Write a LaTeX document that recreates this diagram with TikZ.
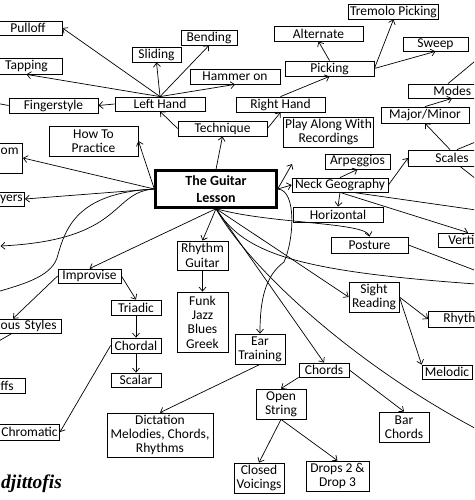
\documentclass[tikz,border=0pt]{standalone}
\usepackage{fontspec}
\setmainfont{Carlito}
\newfontfamily\signfont{Liberation Serif}
\usetikzlibrary{arrows.meta}
\newcommand{\topicfont}{\fontsize{13.5}{14.3}\selectfont}

\begin{document}
\begin{tikzpicture}[x=1pt,y=-1pt, every node/.style={font=\topicfont},
  topic/.style={draw, line width=.8pt, align=center, inner xsep=2pt, inner ysep=1pt, minimum height=15pt},
  cutright/.style={topic, anchor=west, align=left},
  cutleft/.style={topic, anchor=east, align=right},
  link/.style={line width=.7pt, -{Straight Barb[length=4pt,width=7pt]}},
  plainline/.style={line width=.7pt}]
  \useasboundingbox (0,0) rectangle (474,500);
  \clip (0,0) rectangle (474,500);

  % centre
  \node[topic, line width=2.4pt, font=\fontsize{14}{17}\selectfont\bfseries, minimum width=121pt, minimum height=37pt] (lesson) at (216,189) {The Guitar\\Lesson};

  % technique branch
  \node[topic, minimum width=89pt] (technique) at (222.5,128.5) {Technique};
  \node[topic, minimum width=90pt, minimum height=14pt] (lefthand) at (160,104) {Left Hand};
  \node[topic, minimum width=89pt] (righthand) at (280.5,104.5) {Right Hand};
  \node[topic, minimum width=68pt, minimum height=14pt] (pulloff) at (28,28) {Pulloff};
  \node[topic, minimum width=71pt, minimum height=16pt] (tapping) at (26.5,66) {Tapping};
  \node[topic, minimum width=49pt] (sliding) at (156.5,54.5) {Sliding};
  \node[topic, minimum width=56pt] (bending) at (209,37.5) {Bending};
  \node[topic, minimum width=90pt] (hammer) at (235,76.5) {Hammer on};
  \node[topic, minimum width=89pt] (finger) at (53.5,105.5) {Fingerstyle};
  \node[topic, minimum width=89pt] (picking) at (329.5,68.5) {Picking};
  \node[topic, minimum width=89pt] (alternate) at (318.5,33.5) {Alternate};
  \node[topic, minimum width=89pt] (tremolo) at (393.5,11.5) {Tremolo Picking};
  \node[topic, minimum width=65pt, minimum height=14pt] (sweep) at (435.5,44) {Sweep};
  \node[topic, minimum width=89pt, minimum height=30pt] (howto) at (93.5,141) {How To\\Practice};
  \node[topic, minimum width=89pt, minimum height=30pt] (playalong) at (328.5,132) {Play Along With\\Recordings};

  % neck branch
  \node[topic, minimum width=96pt, minimum height=14pt] (neck) at (340,185) {Neck Geography};
  \node[topic, minimum width=65pt] (arpeggios) at (357.5,161.5) {Arpeggios};
  \node[topic, minimum width=90pt] (horizontal) at (338,214.5) {Horizontal};
  \node[topic, minimum width=88pt, minimum height=16pt] (majmin) at (425,115) {Major/Minor};
  \node[cutright, inner xsep=27pt, text width=50pt, minimum height=16pt] (scales) at (408,158) {Scales};
  \node[cutright, inner xsep=25pt, text width=50pt, minimum height=14pt] (modes) at (408,91) {Modes};
  \node[cutright, inner xsep=10pt, text width=40pt, minimum height=14pt] (verti) at (438,240) {Verti};
  \node[topic, minimum width=77pt, minimum height=16pt] (posture) at (369.5,245) {Posture};

  % lower right
  \node[topic, minimum width=50pt, minimum height=30pt] (sight) at (374,297) {Sight\\Reading};
  \node[cutright, inner xsep=15pt, text width=40pt, minimum height=16pt] (rhyth) at (428,319) {Rhyth};
  \node[topic, minimum width=50pt, minimum height=14pt] (melodic) at (447,372) {Melodic};
  \node[topic, minimum width=50pt, minimum height=14pt] (chords) at (324,370) {Chords};
  \node[topic, minimum width=50pt, minimum height=30pt] (openstr) at (281,404) {Open\\String};
  \node[topic, minimum width=50pt, minimum height=30pt] (barch) at (404,427) {Bar\\Chords};
  \node[topic, minimum width=50pt, minimum height=30pt] (closed) at (259,478) {Closed\\Voicings};
  \node[topic, minimum width=63pt, minimum height=30pt] (drops) at (337.5,476) {Drops 2 \&\\Drop 3};
  \node[topic, minimum width=50pt, minimum height=30pt] (ear) at (260,349) {Ear\\Training};
  \node[topic, minimum width=106pt, minimum height=44pt] (dict) at (160,435) {Dictation\\Melodies, Chords,\\Rhythms};

  % lower left
  \node[topic, minimum width=51pt, minimum height=29pt] (rhythmg) at (202.5,255.5) {Rhythm\\Guitar};
  \node[topic, minimum width=51pt, minimum height=60pt] (funk) at (202.5,322) {Funk\\Jazz\\Blues\\Greek};
  \node[topic, minimum width=63pt, minimum height=14pt] (improvise) at (89.5,276) {Improvise};
  \node[topic, minimum width=50pt] (triadic) at (136,307.5) {Triadic};
  \node[topic, minimum width=50pt] (chordal) at (136,345.5) {Chordal};
  \node[topic, minimum width=50pt, minimum height=14pt] (scalar) at (136,380) {Scalar};
  \node[cutleft, inner xsep=4pt, text width=30pt, minimum height=30pt] (om) at (23,158) {om\\\mbox{}};
  \node[cutleft, inner xsep=2pt, text width=40pt, minimum height=14pt] (yers) at (25,199) {yers};
  \node[cutleft, inner xsep=5pt, text width=70pt, minimum height=14pt] (ous) at (62,326) {ous Styles};
  \node[cutleft, inner xsep=12pt, text width=30pt] (ffs) at (26,385.5) {ffs};
  \node[cutleft, inner xsep=2pt, text width=70pt, minimum height=16pt] (chrom) at (60,432) {Chromatic};
  \node[font=\fontsize{19.5}{19.5}\selectfont\signfont\bfseries\itshape, anchor=west, inner sep=0pt] (sign) at (1,484) {djittofis};

  % free ends
  \coordinate (fingerout) at (-10,102);
  \coordinate (leftA) at (0.5,246);
  \coordinate (leftB) at (-10,294);
  \coordinate (ousout) at (-10,346);
  \coordinate (playtip) at (292,164);
  \coordinate (neckout) at (490,212);
  \coordinate (scalesup) at (490,136);
  \coordinate (scalesdown) at (490,190);
  \coordinate (modesout) at (486,52);
  \coordinate (postout) at (490,276);
  \coordinate (longout) at (490,285);
  \coordinate (arcout) at (490,436);

  % connectors from the centre
  \draw[link] (lesson.north) -- (technique.south);
  \draw[link] (lesson.west) -- (howto.east);
  \draw[link] (lesson.west) -- (om.east);
  \draw[link] (lesson.west) -- (yers.east);
  \draw[link] (lesson.west) .. controls (110,192) and (125,240) .. (leftA);
  \draw[plainline] (lesson.west) .. controls (75,193) and (65,230) .. (57,258) .. controls (50,278) and (20,285) .. (leftB);
  \draw[link] (lesson.south) -- (improvise.north);
  \draw[link] (lesson.south) -- (rhythmg.north);
  \draw[link] (lesson.south) .. controls (270,224) and (366,222) .. (posture.north);
  \draw[link] (lesson.south) -- (sight.west);
  \draw[link] (lesson.south) -- (chords.north);
  \draw[plainline] (lesson.south) .. controls (245,255) and (300,272) .. (longout);
  \draw[plainline] (lesson.south) .. controls (250,270) and (360,370) .. (arcout);
  \draw[link] (lesson.east) -- (neck.west);
  \draw[link] (lesson.east) -- (playtip);
  \draw[link] (lesson.east) .. controls (297,190) and (294,240) .. (284,262) .. controls (265,276) and (260,300) .. (ear.north);

  % technique
  \draw[link] (technique.west) -- (lefthand.south);
  \draw[link] (technique.east) -- (righthand.south);
  \draw[link] (righthand.north) -- (picking.south);
  \draw[link] (picking.north) -- (alternate.south);
  \draw[link] (picking.east) -- (tremolo.south);
  \draw[link] (picking.east) -- (sweep.south);
  \draw[link] (lefthand.north) -- (pulloff.east);
  \draw[link] (lefthand.north) -- (tapping.south);
  \draw[link] (lefthand.north) -- (sliding.south);
  \draw[link] (lefthand.north) -- (bending.south);
  \draw[link] (lefthand.north) -- (hammer.south);
  \draw[link] (lefthand.west) -- (finger.east);
  \draw[plainline] (finger.west) -- (fingerout);

  % neck geography
  \draw[link] (neck.north) -- (arpeggios.south);
  \draw[link] (neck.east) -- (scales.west);
  \draw[link] (neck.south) -- (horizontal.north);
  \draw[link] (neck.south) -- ([xshift=30pt]verti.north west);
  \draw[plainline] ([xshift=13pt]neck.south) -- (neckout);
  \draw[link] ([xshift=42pt]scales.north west) -- (majmin.south);
  \draw[plainline] ([xshift=49pt]scales.north west) -- (scalesup);
  \draw[plainline] ([xshift=52pt]scales.south west) -- (scalesdown);
  \draw[link] (majmin.north) -- ([xshift=44pt]modes.south west);
  \draw[plainline] ([xshift=40pt]modes.north west) -- (modesout);
  \draw[plainline] (posture.east) -- (postout);

  % reading, chords, ear
  \draw[link] (sight.east) -- (rhyth.west);
  \draw[link] (sight.east) -- (melodic.north west);
  \draw[link] (chords.south west) -- (openstr.north);
  \draw[link] (chords.east) -- (barch.north);
  \draw[link] (openstr.south) -- (closed.north);
  \draw[link] (openstr.south) -- (drops.north);
  \draw[link] (ear.south) -- (dict.north);

  % improvise, rhythm
  \draw[link] (improvise.east) -- (triadic.north);
  \draw[link] (improvise.west) -- ([xshift=-49pt]ous.north east);
  \draw[link] (triadic) -- (chordal);
  \draw[link] (chordal) -- (scalar);
  \draw[link] (chordal.west) -- (chrom.east);
  \draw[plainline] ([xshift=-50pt]ous.south east) -- (ousout);
  \draw[link] (rhythmg) -- (funk);
\end{tikzpicture}
\end{document}
